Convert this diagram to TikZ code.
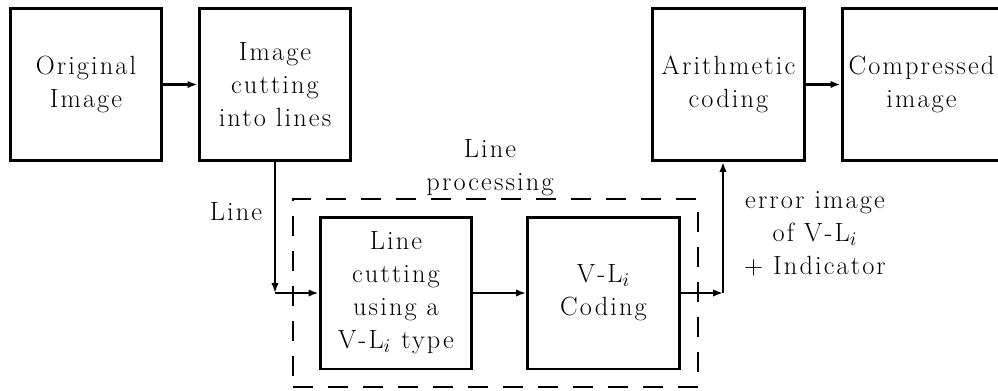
\documentclass[tikz,border=0pt]{standalone}
\usepackage{fontspec}
\setmainfont{Latin Modern Roman}[LetterSpace=8]
\usetikzlibrary{arrows.meta}

\begin{document}
\begin{tikzpicture}[x=0.02cm, y=-0.02cm,
        font=\fontsize{15}{18.8}\selectfont,
        block/.style={rectangle, draw=black, line width=1.7pt, minimum width=3.04cm, minimum height=3.04cm, align=center, inner sep=0pt},
        group/.style={rectangle, draw=black, line width=1.1pt, dash pattern=on 0.4cm off 0.3cm},
        flow/.style={line width=1.6pt, -{Latex[length=2mm, width=1.5mm]}},
        label/.style={align=center},
    ]
        \useasboundingbox (0,0) rectangle (998,390);

        %Nodes
        \node[block] (original) at (86,84.5) {Original\\Image};
        \node[block] (cutting) at (275,84.5) {Image\\cutting\\into lines};
        \node[block] (arith) at (728.5,84.5) {Arithmetic\\coding};
        \node[block, minimum width=3.18cm] (compressed) at (921.5,84.5) {Compressed\\image};

        \node[block] (linecut) at (396,293) {Line\\cutting\\using a\\V-L$_i$ type};
        \node[block] (vlcoding) at (603.5,293) {V-L$_i$\\Coding};

        \node[group, minimum width=8.1cm, minimum height=3.76cm] (processing) at (495.5,293) {};
        \node[label] (proclabel) at (490,168) {Line\\processing};
        \node[label] (linelabel) at (236,212) {Line};
        \node[label] (errorlabel) at (815,234) {error image\\of V-L$_i$\\+ Indicator};

        \coordinate (turnin) at (275,293);
        \coordinate (turnout) at (723,293);

        %Lines
        \draw[flow] (original) -- (cutting);
        \draw[flow] (arith) -- (compressed);

        \draw[flow, line width=1.1pt] (cutting.south) -- (turnin);
        \draw[flow] (turnin) -- (linecut);
        \draw[flow] (linecut) -- (vlcoding);
        \draw[flow] (vlcoding) -- (turnout);
        \draw[flow] (turnout) -- (arith.south -| turnout);
    \end{tikzpicture}
\end{document}
